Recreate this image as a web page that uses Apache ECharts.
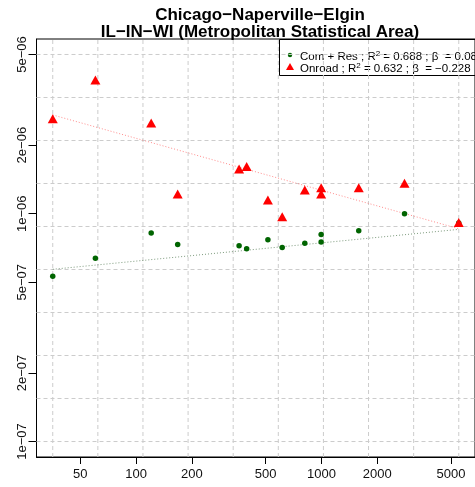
<!DOCTYPE html>
<html>
<head>
<meta charset="utf-8">
<title>Chicago−Naperville−Elgin</title>
<script src="https://cdn.jsdelivr.net/npm/echarts@6/dist/echarts.min.js"></script>
<style>
  html, body { margin: 0; padding: 0; background: #ffffff; }
  #chart { width: 475px; height: 487px; }
</style>
</head>
<body>
<div id="chart"></div>
<script>
// Per-area emission densities (log-log scatter) for the two sectors.
const areaX = [35.5, 60.3, 120.6, 167.6, 359.4, 394.8, 514, 614, 813, 996, 996, 1589, 2806, 5504];
const comResY = [5.31e-7, 6.37e-7, 8.23e-7, 7.33e-7, 7.24e-7, 7.01e-7, 7.69e-7, 7.10e-7, 7.41e-7, 7.52e-7, 8.11e-7, 8.42e-7, 1.00e-6, 9.10e-7];
const onroadY = [2.61e-6, 3.86e-6, 2.50e-6, 1.22e-6, 1.57e-6, 1.61e-6, 1.15e-6, 9.70e-7, 1.27e-6, 1.30e-6, 1.22e-6, 1.30e-6, 1.36e-6, 9.16e-7];

// Fitted power laws: log10(y) = intercept + beta * log10(x)
const comResFit = { r2: '0.688', beta: 0.080, betaText: '0.080', intercept: -6.368 };
const onroadFit = { r2: '0.632', beta: -0.228, betaText: '−0.228', intercept: -5.213 };

// Axis ticks and labels
const xTicks = [50, 100, 200, 500, 1000, 2000, 5000];
const xTickLabels = ['50', '100', '200', '500', '1000', '2000', '5000'];
const yTicks = [1e-7, 2e-7, 5e-7, 1e-6, 2e-6, 5e-6];
const yTickLabels = ['1e−07', '2e−07', '5e−07', '1e−06', '2e−06', '5e−06'];

const titleLines = ['Chicago−Naperville−Elgin', 'IL−IN−WI (Metropolitan Statistical Area)'];

// ---- derived layout helpers ----
const lg = Math.log10;
const xDataMin = Math.min.apply(null, areaX);
const xDataMax = Math.max.apply(null, areaX);
const yLimMin = yTicks[0], yLimMax = yTicks[yTicks.length - 1];
// 4% padding of the log range on each side
function padRange(a, b) {
  const la = lg(a), lb = lg(b), d = (lb - la) * 0.04;
  return [Math.pow(10, la - d), Math.pow(10, lb + d)];
}
const xRange = padRange(xDataMin, xDataMax);
const yRange = padRange(yLimMin, yLimMax);

// Grid lines: 10 lines equally spaced in log space across each span
function logSpaced(a, b, n) {
  const out = [];
  for (let i = 0; i < n; i++) out.push(Math.pow(10, lg(a) + (lg(b) - lg(a)) * i / (n - 1)));
  return out;
}
const xGrid = logSpaced(xDataMin, xDataMax, 10);
const yGrid = logSpaced(yLimMin, yLimMax, 10);

function fitLine(fit) {
  return [xDataMin, xDataMax].map(x => [x, Math.pow(10, fit.intercept + fit.beta * lg(x))]);
}

const gridStyle = { color: '#cccccc', width: 1, type: [4, 3] };
function gridSeries(points) {
  return {
    type: 'line', data: points, symbol: 'none', z: 1, silent: true,
    lineStyle: gridStyle, emphasis: { disabled: true }
  };
}
const gridLineSeries = []
  .concat(xGrid.map(v => gridSeries([[v, yRange[0]], [v, yRange[1]]])))
  .concat(yGrid.map(v => gridSeries([[xRange[0], v], [xRange[1], v]])));

const chart = echarts.init(document.getElementById('chart'), null, { renderer: 'canvas' });

const fontFamily = 'Liberation Sans, Arial, sans-serif';

const legendText = {
  t: { fontSize: 11.5, fill: '#000', fontFamily: fontFamily, lineHeight: 13, verticalAlign: 'bottom' },
  s: { fontSize: 8, fill: '#000', fontFamily: fontFamily, lineHeight: 13, verticalAlign: 'top' }
};

chart.setOption({
  animation: false,
  backgroundColor: '#ffffff',
  textStyle: { fontFamily: fontFamily },
  title: {
    text: titleLines.join('\n'),
    left: 260,
    textAlign: 'center',
    top: 7.5,
    padding: 0,
    textStyle: { fontSize: 17, fontWeight: 'bold', color: '#000', lineHeight: 16.5, fontFamily: fontFamily }
  },
  grid: {
    left: 36.5, top: 39, width: 447, bottom: 30,
    show: true, borderColor: '#000', borderWidth: 1, backgroundColor: 'transparent',
    containLabel: false
  },
  xAxis: {
    type: 'log',
    min: xRange[0], max: xRange[1],
    axisLine: { show: true, lineStyle: { color: '#000', width: 1 } },
    axisTick: { show: true, length: 7, inside: false, customValues: xTicks, lineStyle: { color: '#000' } },
    axisLabel: {
      show: true, margin: 11, fontSize: 13, color: '#111', fontFamily: fontFamily,
      customValues: xTicks,
      formatter: v => { const i = xTicks.findIndex(t => Math.abs(t - v) / t < 1e-6); return i >= 0 ? xTickLabels[i] : ''; }
    },
    splitLine: { show: false },
    minorTick: { show: false }
  },
  yAxis: {
    type: 'log',
    min: yRange[0], max: yRange[1],
    axisLine: { show: true, lineStyle: { color: '#000', width: 1 } },
    axisTick: { show: true, length: 8, inside: false, customValues: yTicks, lineStyle: { color: '#000' } },
    axisLabel: {
      show: true, margin: 8, fontSize: 13, color: '#111', rotate: 90, fontFamily: fontFamily,
      customValues: yTicks,
      formatter: v => { const i = yTicks.findIndex(t => Math.abs(t - v) / t < 1e-6); return i >= 0 ? yTickLabels[i] : ''; }
    },
    splitLine: { show: false },
    minorTick: { show: false }
  },
  series: gridLineSeries.concat([
    {
      name: 'Com + Res fit',
      type: 'line',
      data: fitLine(comResFit),
      symbol: 'none',
      z: 2,
      silent: true,
      lineStyle: { color: '#6f8f6f', width: 1, type: [1, 2], opacity: 0.9 }
    },
    {
      name: 'Onroad fit',
      type: 'line',
      data: fitLine(onroadFit),
      symbol: 'none',
      z: 2,
      silent: true,
      lineStyle: { color: '#ff7f7f', width: 1, type: [1, 2], opacity: 0.9 }
    },
    {
      name: 'Com + Res',
      type: 'scatter',
      data: areaX.map((x, i) => [x, comResY[i]]),
      symbol: 'circle',
      symbolSize: 5.5,
      z: 3,
      itemStyle: { color: '#006400', opacity: 1 }
    },
    {
      name: 'Onroad',
      type: 'scatter',
      data: areaX.map((x, i) => [x, onroadY[i]]),
      symbol: 'triangle',
      symbolSize: [10, 9],
      z: 4,
      itemStyle: { color: '#ff0000', opacity: 1 }
    }
  ]),
  graphic: [
    {
      type: 'group',
      x: 279, y: 39,
      z: 100,
      children: [
        { type: 'rect', shape: { x: 0.5, y: 0.5, width: 230, height: 36 },
          style: { fill: 'none', stroke: '#000', lineWidth: 1 } },
        { type: 'circle', shape: { cx: 11, cy: 16, r: 2.2 }, style: { fill: '#006400' } },
        { type: 'polygon', shape: { points: [[7, 31], [15, 31], [11, 24]] }, style: { fill: '#ff0000' } },
        { type: 'text', x: 21, y: 17,
          style: {
            text: '{t|Com + Res ; R}{s|2}{t| = ' + comResFit.r2 + ' ; β  = ' + comResFit.betaText + '}',
            verticalAlign: 'middle', align: 'left', rich: legendText
          } },
        { type: 'text', x: 21, y: 29,
          style: {
            text: '{t|Onroad ; R}{s|2}{t| = ' + onroadFit.r2 + ' ; β  = ' + onroadFit.betaText + '}',
            verticalAlign: 'middle', align: 'left', rich: legendText
          } }
      ]
    }
  ]
});
</script>
</body>
</html>
